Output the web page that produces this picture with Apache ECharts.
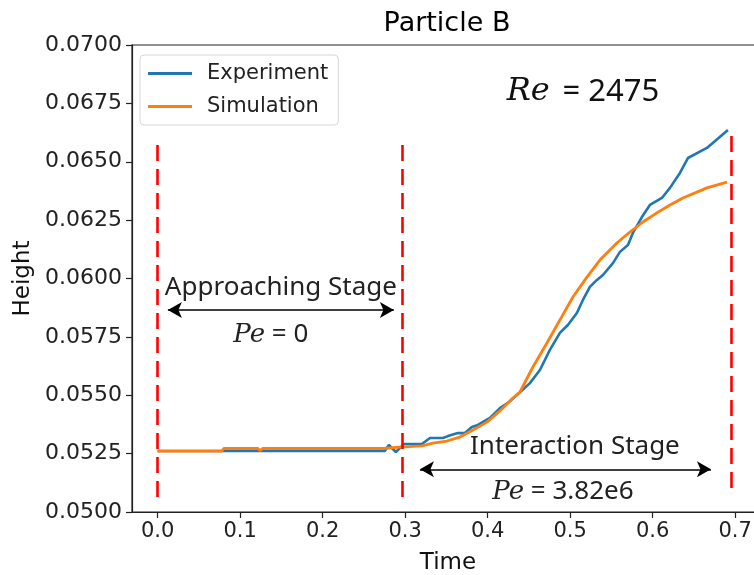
<!DOCTYPE html>
<html>
<head>
<meta charset="utf-8">
<script src="https://cdn.jsdelivr.net/npm/echarts@6/dist/echarts.min.js"></script>
<style>html,body{margin:0;padding:0;background:#fff;overflow:hidden;}#c{width:754px;height:575px;}</style>
</head>
<body>
<div id="c"></div>
<script>
// ---- data ----
const expTime = [0.000, 0.2755, 0.2803, 0.2888, 0.2985, 0.3204, 0.3301, 0.3458, 0.3519, 0.3640, 0.3725, 0.3810, 0.3882, 0.4028, 0.4149, 0.4246, 0.4355, 0.4513, 0.4634, 0.4755, 0.4876, 0.4973, 0.5082, 0.5155, 0.5240, 0.5325, 0.5398, 0.5519, 0.5604, 0.5701, 0.5761, 0.5870, 0.5967, 0.6113, 0.6210, 0.6331, 0.6428, 0.6658, 0.6913];
const expHeight = [0.05261, 0.05261, 0.05287, 0.05257, 0.05291, 0.05291, 0.05317, 0.05317, 0.05325, 0.05338, 0.05338, 0.05364, 0.05373, 0.05403, 0.05445, 0.05467, 0.05501, 0.05552, 0.05608, 0.05694, 0.05767, 0.05801, 0.05852, 0.05908, 0.05964, 0.05994, 0.06015, 0.06066, 0.06114, 0.06143, 0.06195, 0.06263, 0.06315, 0.06345, 0.06388, 0.06452, 0.06516, 0.06559, 0.06636];
const simTime = [0.000, 0.0779, 0.0804, 0.1216, 0.1240, 0.1276, 0.2731, 0.2937, 0.3204, 0.3337, 0.3507, 0.3664, 0.3822, 0.3992, 0.4149, 0.4307, 0.4392, 0.4549, 0.4719, 0.4876, 0.5034, 0.5204, 0.5361, 0.5567, 0.5725, 0.5882, 0.6052, 0.6210, 0.6367, 0.6658, 0.6901];
const simHeight = [0.05261, 0.05261, 0.05272, 0.05272, 0.05263, 0.05272, 0.05272, 0.05278, 0.05283, 0.05295, 0.05304, 0.05321, 0.05351, 0.05385, 0.05433, 0.05488, 0.05514, 0.05621, 0.05724, 0.05822, 0.05921, 0.06006, 0.06079, 0.06152, 0.06199, 0.06242, 0.06281, 0.06315, 0.06345, 0.06388, 0.06413];
const xTicks = [0.0, 0.1, 0.2, 0.3, 0.4, 0.5, 0.6, 0.7];
// stage boundaries: [time, yBottom, yTop]
const stageLines = [[0.0, 0.05064, 0.06606], [0.297, 0.05064, 0.06606], [0.6954, 0.05103, 0.06645]];
// arrows: [x1, x2, y]
const arrows = [[0.0125, 0.2864, 0.05865], [0.318, 0.6707, 0.05183]];
// text annotations: [x, y, text]
const notes = [
  [0.1495, 0.05959, '{s|Approaching Stage}'],
  [0.1373, 0.05758, '{i|Pe} {s|= 0}'],
  [0.5058, 0.05278, '{s|Interaction Stage}'],
  [0.4913, 0.05086, '{i|Pe} {s|= 3.82e6}'],
  [0.5155, 0.06799, '{b|Re} {c|= 2475}']
];

const zip = (a, b) => a.map((v, i) => [v, b[i]]);
const chart = echarts.init(document.getElementById('c'), null, {renderer: 'canvas'});
const font = 'DejaVu Sans';
const annFont = 'Noto Sans';

chart.setOption({
  animation: false,
  backgroundColor: '#fff',
  title: {
    text: 'Particle B', left: 442, top: 5, textAlign: 'center',
    textStyle: {fontFamily: font, fontWeight: 'normal', fontSize: 27, color: '#000'}
  },
  legend: {
    left: 140, top: 55, orient: 'vertical',
    itemWidth: 44, itemHeight: 3, itemGap: 12, icon: 'rect',
    padding: [8, 10, 8, 8],
    borderColor: '#d8d8d8', borderWidth: 1, borderRadius: 4,
    textStyle: {fontFamily: font, fontSize: 21, color: '#222', padding: [0, 0, 0, 10]},
    data: ['Experiment', 'Simulation']
  },
  grid: {left: 132, top: 45, width: 632, height: 467, show: true, borderColor: '#222', borderWidth: 1.2, containLabel: false, outerBoundsMode: 'none'},
  xAxis: {
    type: 'value', min: -0.031, max: 0.735,
    name: 'Time', nameLocation: 'middle', nameGap: 40,
    nameTextStyle: {fontFamily: font, fontSize: 23, color: '#111'},
    axisLine: {show: true, onZero: false, lineStyle: {color: '#222', width: 1.2}},
    axisTick: {show: true, length: 6, inside: false, customValues: xTicks, lineStyle: {color: '#222', width: 1.2}},
    axisLabel: {customValues: xTicks, fontFamily: font, fontSize: 21, color: '#222', margin: 9, formatter: v => v.toFixed(1)},
    splitLine: {show: false}
  },
  yAxis: {
    type: 'value', min: 0.05, max: 0.07, interval: 0.0025,
    name: 'Height', nameLocation: 'middle', nameGap: 90, nameRotate: 90,
    nameTextStyle: {fontFamily: font, fontSize: 23, color: '#111'},
    axisLine: {show: true, onZero: false, lineStyle: {color: '#222', width: 1.2}},
    axisTick: {show: true, length: 6, lineStyle: {color: '#222', width: 1.2}},
    axisLabel: {fontFamily: font, fontSize: 22, color: '#222', margin: 10, formatter: v => v.toFixed(4)},
    splitLine: {show: false}
  },
  series: [
    {
      name: 'Experiment', type: 'line', data: zip(expTime, expHeight),
      showSymbol: false, symbol: 'none', color: '#1f77b4',
      lineStyle: {color: '#1f77b4', width: 2.6}, z: 3
    },
    {
      name: 'Simulation', type: 'line', data: zip(simTime, simHeight),
      showSymbol: false, symbol: 'none', color: '#ff7f0e',
      lineStyle: {color: '#ff7f0e', width: 2.8}, z: 4,
      markLine: {
        silent: true, symbol: ['none', 'none'], animation: false,
        label: {show: false},
        lineStyle: {color: '#ff0000', width: 2.6, type: [16, 8]},
        data: stageLines.map(s => [{coord: [s[0], s[1]]}, {coord: [s[0], s[2]]}])
      }
    },
    {
      name: 'arrows', type: 'line', data: [], z: 5,
      markLine: {
        silent: true, symbol: ['arrow', 'arrow'], symbolSize: [12, 14], animation: false,
        label: {show: false},
        lineStyle: {color: '#000', width: 1.5, type: 'solid'},
        data: arrows.map(a => [{coord: [a[0], a[2]]}, {coord: [a[1], a[2]]}])
      },
      markPoint: {
        silent: true, symbol: 'circle', symbolSize: 1, animation: false,
        itemStyle: {color: 'rgba(0,0,0,0)'},
        label: {
          show: true, position: 'inside', color: '#222',
          fontFamily: annFont, fontSize: 26,
          formatter: p => p.name,
          rich: {
            s: {fontFamily: annFont, fontSize: 26, color: '#222'},
            i: {fontFamily: 'DejaVu Serif', fontStyle: 'italic', fontSize: 26, color: '#222'},
            b: {fontFamily: 'DejaVu Serif', fontStyle: 'italic', fontSize: 32, color: '#111'},
            c: {fontFamily: annFont, fontSize: 31, color: '#111', padding: [0, 0, 0, 6]}
          }
        },
        data: notes.map(n => ({coord: [n[0], n[1]], name: n[2]}))
      }
    }
  ]
});
</script>
</body>
</html>
